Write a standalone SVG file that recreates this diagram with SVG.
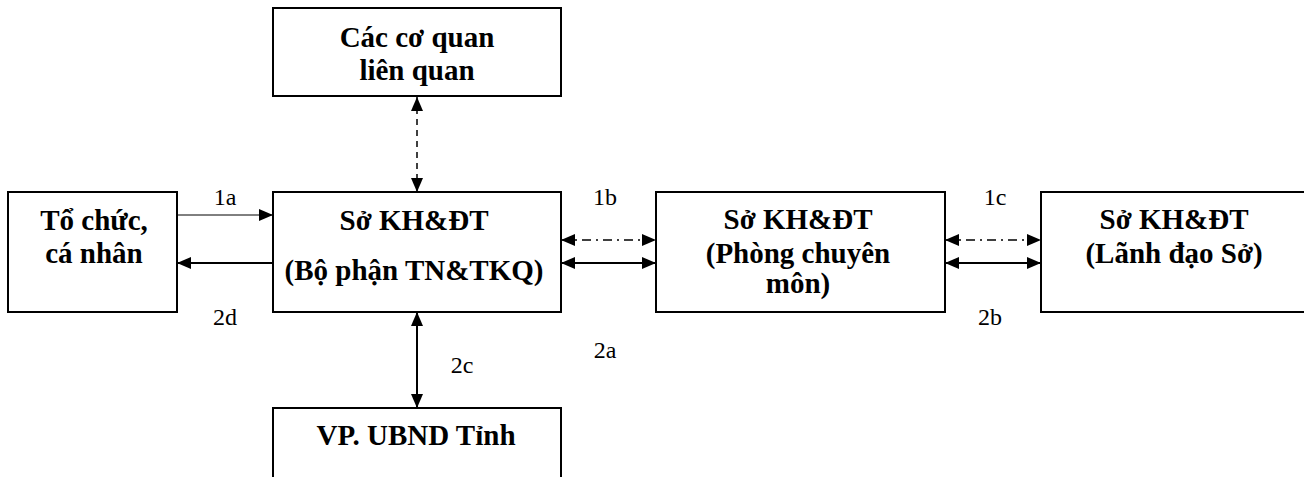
<svg xmlns="http://www.w3.org/2000/svg" width="1304" height="477" viewBox="0 0 1304 477">
<style>
.box{fill:#fff;stroke:#000;stroke-width:2}
.t{font-family:"Liberation Serif","Times New Roman",serif;font-weight:bold;font-size:29px;text-anchor:middle;fill:#000}
.lbl{font-family:"Liberation Serif","Times New Roman",serif;font-size:24px;text-anchor:middle;fill:#000}
.thin{stroke:#000;stroke-width:1;fill:none}
.solid{stroke:#000;stroke-width:2;fill:none}
.dd{stroke:#000;stroke-width:1.5;fill:none;stroke-dasharray:9 5 2 5}
.dash{stroke:#000;stroke-width:1.5;fill:none;stroke-dasharray:6 5}
</style>
<defs>
<marker id="ah" markerUnits="userSpaceOnUse" markerWidth="14" markerHeight="12" refX="14" refY="6" orient="auto-start-reverse">
<path d="M0,0 L14,6 L0,12 Z" fill="#000"/>
</marker>
</defs>
<g id="connectors">
<line class="thin" x1="177" y1="215" x2="273" y2="215" marker-end="url(#ah)"/>
<line class="solid" x1="273" y1="263" x2="177" y2="263" marker-end="url(#ah)"/>
<line class="dash" x1="417" y1="97" x2="417" y2="192" marker-start="url(#ah)" marker-end="url(#ah)"/>
<line class="dd" x1="561" y1="240" x2="656" y2="240" marker-start="url(#ah)" marker-end="url(#ah)"/>
<line class="solid" x1="561" y1="263" x2="656" y2="263" marker-start="url(#ah)" marker-end="url(#ah)"/>
<line class="dd" x1="945" y1="240" x2="1041" y2="240" marker-start="url(#ah)" marker-end="url(#ah)"/>
<line class="solid" x1="945" y1="263" x2="1041" y2="263" marker-start="url(#ah)" marker-end="url(#ah)"/>
<line class="solid" x1="417" y1="312" x2="417" y2="408" marker-start="url(#ah)" marker-end="url(#ah)"/>
<text class="lbl" x="225" y="205">1a</text>
<text class="lbl" x="225" y="325">2d</text>
<text class="lbl" x="605" y="205">1b</text>
<text class="lbl" x="605" y="358">2a</text>
<text class="lbl" x="995" y="205">1c</text>
<text class="lbl" x="990" y="325">2b</text>
<text class="lbl" x="462" y="373">2c</text>
</g>
<g id="to-chuc">
<rect class="box" x="8" y="192" width="169" height="120"/>
<text class="t" x="94" y="230">Tổ chức,</text>
<text class="t" x="94" y="263">cá nhân</text>
</g>
<g id="co-quan">
<rect class="box" x="273" y="8" width="288" height="88"/>
<text class="t" x="417" y="47">Các cơ quan</text>
<text class="t" x="417" y="80">liên quan</text>
</g>
<g id="bo-phan">
<rect class="box" x="273" y="192" width="288" height="120"/>
<text class="t" x="414" y="230">Sở KH&amp;ĐT</text>
<text class="t" x="414" y="280">(Bộ phận TN&amp;TKQ)</text>
</g>
<g id="phong">
<rect class="box" x="656" y="192" width="289" height="120"/>
<text class="t" x="798" y="229">Sở KH&amp;ĐT</text>
<text class="t" x="798" y="263">(Phòng chuyên</text>
<text class="t" x="798" y="293">môn)</text>
</g>
<g id="lanh-dao">
<rect class="box" x="1041" y="192" width="266" height="120"/>
<text class="t" x="1174" y="229">Sở KH&amp;ĐT</text>
<text class="t" x="1174" y="263">(Lãnh đạo Sở)</text>
</g>
<g id="vp-ubnd">
<rect class="box" x="273" y="408" width="288" height="80"/>
<text class="t" x="416" y="445">VP. UBND Tỉnh</text>
</g>
</svg>
